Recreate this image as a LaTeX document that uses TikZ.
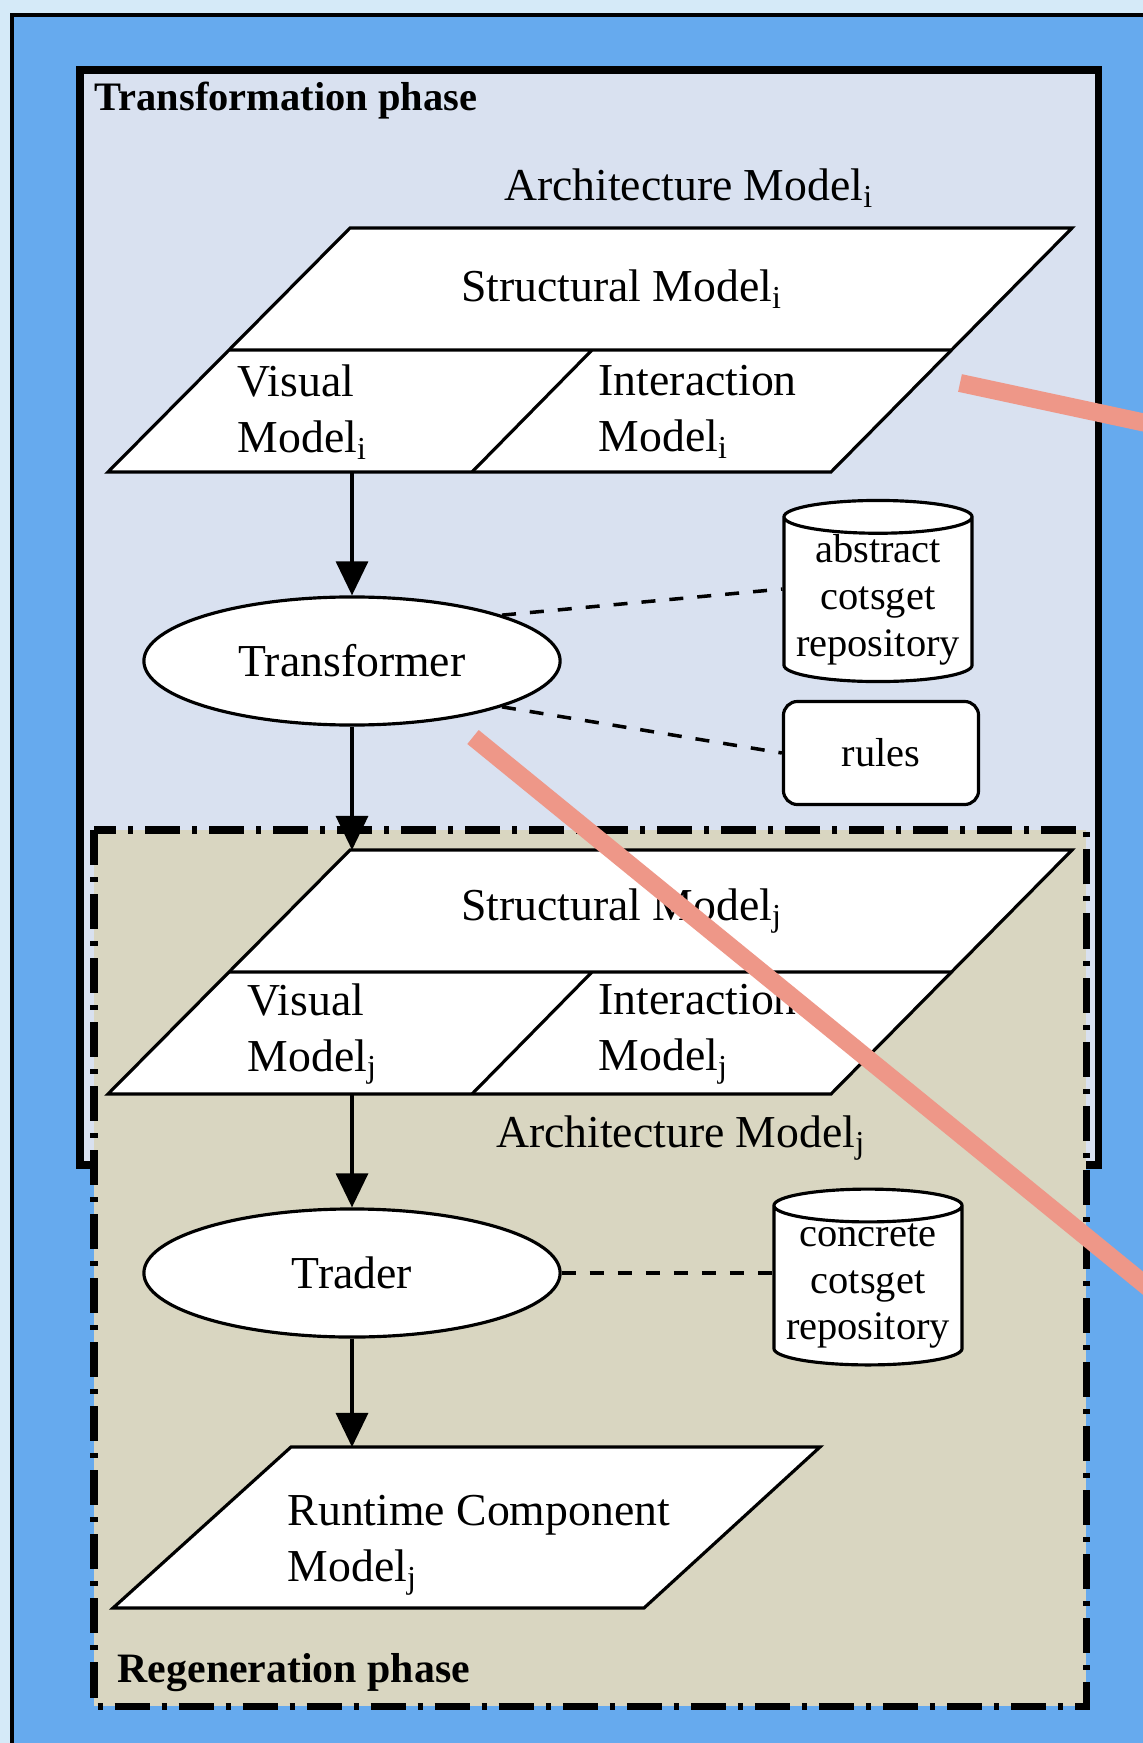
\documentclass[tikz,border=0pt]{standalone}
\usepackage{fontspec}
\setmainfont{Liberation Serif}
\usetikzlibrary{shapes.geometric,arrows.meta}
\definecolor{pg_page}{RGB}{213,234,248}
\definecolor{pg_blue}{RGB}{102,170,238}
\definecolor{pg_lav}{RGB}{217,225,240}
\definecolor{pg_tan}{RGB}{217,214,193}
\definecolor{pg_salmon}{RGB}{238,151,136}

\begin{document}
\begin{tikzpicture}[x=0.01cm,y=-0.01cm]
    % Define styles
    \tikzset{
        model/.style={draw,fill=white,line width=0.9pt},
        txt/.style={font=\fontsize{13}{16}\selectfont,inner sep=0pt,align=left},
        proc/.style={ellipse,draw,fill=white,line width=0.9pt,minimum width=4.16cm,minimum height=1.28cm,font=\fontsize{13}{16}\selectfont},
        repo/.style={cylinder,shape border rotate=90,aspect=0.2,draw,fill=white,line width=0.9pt,minimum width=1.88cm,minimum height=1.58cm,align=center,inner sep=0pt,font=\fontsize{11.5}{13.3}\selectfont},
        flow/.style={line width=0.9pt,-{Triangle[length=0.34cm,width=0.32cm]}},
        assoc/.style={line width=1pt,dash pattern=on 0.14cm off 0.14cm},
        phase/.style={font=\bfseries\fontsize{11.5}{14}\selectfont,inner sep=0pt,anchor=west},
        marker/.style={pg_salmon,line width=0.18cm}
    }

    \useasboundingbox (0,0) rectangle (1143,1743);
    \fill[pg_page] (0,0) rectangle (1143,1743); % page
    \fill[pg_blue] (12,15) rectangle (1143,1743);
    \draw[line width=1.1pt] (12,1743) -- (12,15) -- (1143,15);

    % Phases
    \draw[line width=2pt,fill=pg_lav] (80,70) rectangle (1098,1165);
    \node[phase] (tphase) at (94,101) {Transformation phase};
    \draw[line width=2pt,fill=pg_tan,dash pattern=on 0.35cm off 0.12cm on 0.05cm off 0.12cm] (94,830) rectangle (1086,1706);
    \node[phase,font=\bfseries\fontsize{11.9}{14}\selectfont] (rphase) at (117,1673) {Regeneration phase};

    \foreach \m/\dy/\vx in {i/0/237,j/622/247}    % Draw both architecture models
    {
        \draw[model] (350,{228+\dy}) -- (1072,{228+\dy}) -- (831,{472+\dy}) -- (108,{472+\dy}) -- cycle;
        \draw[model] (229,{350+\dy}) -- (951,{350+\dy}) (592,{350+\dy}) -- (472,{472+\dy});
        \node[txt] (struct-\m) at (622,{289+\dy}) {Structural Model\textsubscript{\m}};
        \node[txt,anchor=west] (vis-\m) at (\vx,{412+\dy}) {Visual\\Model\textsubscript{\m}};
        \node[txt,anchor=west] (inter-\m) at (598,{412+\dy}) {Interaction\\Model\textsubscript{\m}};
        \coordinate (in-\m) at (352,{228+\dy});
        \coordinate (out-\m) at (352,{472+\dy});
    }
    \node[txt] (arch-i) at (689,188) {Architecture Model\textsubscript{i}};
    \node[txt] (arch-j) at (681,1138) {Architecture Model\textsubscript{j}};

    % Processes and stores
    \node[proc] (transformer) at (352,661) {Transformer};
    \node[proc] (trader) at (352,1273) {Trader};
    \node[repo] (absrepo) at (878,600) {abstract\\cotsget\\repository};
    \node[draw,fill=white,rounded corners=0.14cm,line width=0.9pt,minimum width=1.95cm,minimum height=1.03cm,font=\fontsize{11.5}{13.3}\selectfont] (rules) at (881,753) {rules};
    \node[repo] (conrepo) at (868,1286) {concrete\\cotsget\\repository};

    % Runtime component model
    \draw[model] (291,1447) -- (820,1447) -- (644,1608) -- (113,1608) -- cycle;
    \node[txt,anchor=west] (runtime) at (287,1545) {Runtime Component\\Model\textsubscript{j}};
    \coordinate (in-rt) at (352,1447);

    % Connectors
    \draw[flow] (out-i) -- (transformer);
    \draw[flow] (transformer) -- (in-j);
    \draw[flow] (out-j) -- (trader);
    \draw[flow] (trader) -- (in-rt);
    \draw[assoc] (transformer.17) -- (absrepo.west |- 0,589);
    \draw[assoc] (transformer.-17) -- (rules.west);
    \draw[assoc] (trader.east) -- (trader.east -| conrepo.west);

    % Overlay marks
    \coordinate (mark1a) at (960,383);
    \coordinate (mark1b) at (1160,426);
    \coordinate (mark2a) at (473,737);
    \coordinate (mark2b) at (1160,1297);
    \draw[marker] (mark1a) -- (mark1b);
    \draw[marker] (mark2a) -- (mark2b);
\end{tikzpicture}
\end{document}
